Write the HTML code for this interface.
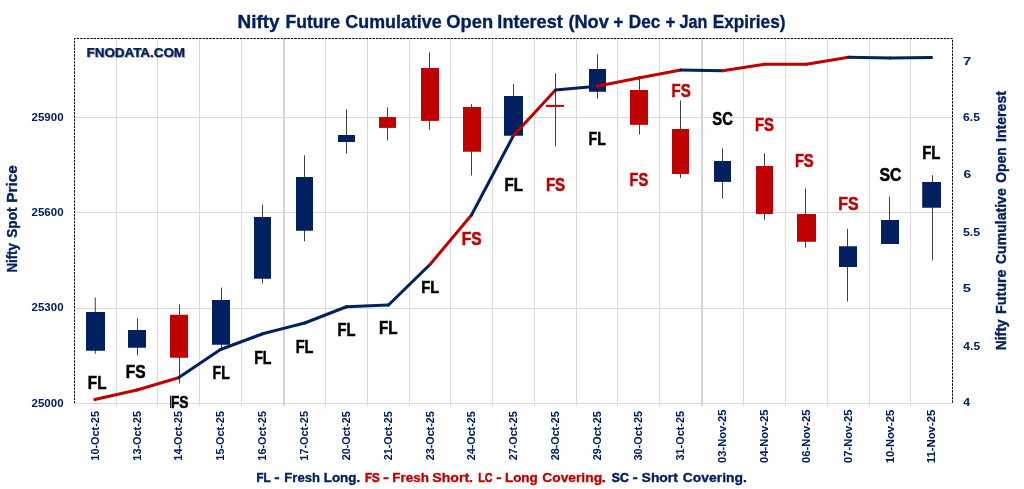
<!DOCTYPE html>
<html><head><meta charset="utf-8"><title>Nifty Future Cumulative Open Interest</title>
<style>html,body{margin:0;padding:0;background:#fff;}body{width:1024px;height:489px;overflow:hidden;font-family:"Liberation Sans",sans-serif;}svg{display:block;}</style></head>
<body>
<svg width="1024" height="489" viewBox="0 0 1024 489" font-family="Liberation Sans, sans-serif" font-weight="bold">
<defs><filter id="sh" x="-10%" y="-30%" width="120%" height="180%"><feDropShadow dx="0.8" dy="0.8" stdDeviation="0.7" flood-color="#000" flood-opacity="0.45"/></filter></defs>
<rect width="1024" height="489" fill="#fff"/>
<g opacity="0.999">
<line x1="116.50" y1="38.5" x2="116.50" y2="406.0" stroke="#DADADA" stroke-width="1"/>
<line x1="157.50" y1="38.5" x2="157.50" y2="406.0" stroke="#DADADA" stroke-width="1"/>
<line x1="199.50" y1="38.5" x2="199.50" y2="406.0" stroke="#DADADA" stroke-width="1"/>
<line x1="241.50" y1="38.5" x2="241.50" y2="406.0" stroke="#DADADA" stroke-width="1"/>
<rect x="283.00" y="38.5" width="2" height="367.5" fill="#D4D4D4"/>
<line x1="325.50" y1="38.5" x2="325.50" y2="406.0" stroke="#DADADA" stroke-width="1"/>
<line x1="367.50" y1="38.5" x2="367.50" y2="406.0" stroke="#DADADA" stroke-width="1"/>
<line x1="409.50" y1="38.5" x2="409.50" y2="406.0" stroke="#DADADA" stroke-width="1"/>
<line x1="450.50" y1="38.5" x2="450.50" y2="406.0" stroke="#DADADA" stroke-width="1"/>
<line x1="492.50" y1="38.5" x2="492.50" y2="406.0" stroke="#DADADA" stroke-width="1"/>
<line x1="534.50" y1="38.5" x2="534.50" y2="406.0" stroke="#DADADA" stroke-width="1"/>
<line x1="576.50" y1="38.5" x2="576.50" y2="406.0" stroke="#DADADA" stroke-width="1"/>
<line x1="617.50" y1="38.5" x2="617.50" y2="406.0" stroke="#DADADA" stroke-width="1"/>
<line x1="659.50" y1="38.5" x2="659.50" y2="406.0" stroke="#DADADA" stroke-width="1"/>
<rect x="701.00" y="38.5" width="2" height="367.5" fill="#D4D4D4"/>
<line x1="743.50" y1="38.5" x2="743.50" y2="406.0" stroke="#DADADA" stroke-width="1"/>
<line x1="785.50" y1="38.5" x2="785.50" y2="406.0" stroke="#DADADA" stroke-width="1"/>
<line x1="827.50" y1="38.5" x2="827.50" y2="406.0" stroke="#DADADA" stroke-width="1"/>
<line x1="869.50" y1="38.5" x2="869.50" y2="406.0" stroke="#DADADA" stroke-width="1"/>
<line x1="910.50" y1="38.5" x2="910.50" y2="406.0" stroke="#DADADA" stroke-width="1"/>
<line x1="74.5" y1="117.5" x2="952.5" y2="117.5" stroke="#DADADA" stroke-width="1"/>
<line x1="74.5" y1="212.5" x2="952.5" y2="212.5" stroke="#DADADA" stroke-width="1"/>
<line x1="74.5" y1="308.5" x2="952.5" y2="308.5" stroke="#DADADA" stroke-width="1"/>
<line x1="74.5" y1="403.5" x2="952.5" y2="403.5" stroke="#DADADA" stroke-width="1"/>
<line x1="95.25" y1="297.5" x2="95.25" y2="353.75" stroke="#404040" stroke-width="1"/>
<rect x="86" y="312" width="19.00" height="38.75" fill="#002060"/>
<line x1="137.50" y1="318.25" x2="137.50" y2="355.25" stroke="#404040" stroke-width="1"/>
<rect x="128" y="330" width="18.00" height="17.75" fill="#002060"/>
<line x1="179.50" y1="304.5" x2="179.50" y2="383.5" stroke="#404040" stroke-width="1"/>
<rect x="170" y="314.75" width="18.00" height="43.00" fill="#C00000"/>
<line x1="221.50" y1="287.5" x2="221.50" y2="350.75" stroke="#404040" stroke-width="1"/>
<rect x="212" y="300" width="18.00" height="44.75" fill="#002060"/>
<line x1="262.50" y1="204.5" x2="262.50" y2="283.25" stroke="#404040" stroke-width="1"/>
<rect x="254" y="217" width="17.00" height="61.75" fill="#002060"/>
<line x1="304.50" y1="155.3" x2="304.50" y2="241.25" stroke="#404040" stroke-width="1"/>
<rect x="296" y="177" width="17.00" height="53.75" fill="#002060"/>
<line x1="346.50" y1="109.4" x2="346.50" y2="153.5" stroke="#404040" stroke-width="1"/>
<rect x="338" y="135" width="17.00" height="7.00" fill="#002060"/>
<line x1="387.50" y1="107.4" x2="387.50" y2="140.4" stroke="#404040" stroke-width="1"/>
<rect x="379" y="117" width="17.00" height="10.90" fill="#C00000"/>
<line x1="429.50" y1="52.3" x2="429.50" y2="129.6" stroke="#404040" stroke-width="1"/>
<rect x="421" y="68" width="18.00" height="52.90" fill="#C00000"/>
<line x1="471.50" y1="104.2" x2="471.50" y2="175.5" stroke="#404040" stroke-width="1"/>
<rect x="463" y="107" width="18.00" height="44.75" fill="#C00000"/>
<line x1="513.50" y1="84.1" x2="513.50" y2="135.75" stroke="#404040" stroke-width="1"/>
<rect x="504" y="96" width="19.00" height="39.75" fill="#002060"/>
<line x1="555.50" y1="73.3" x2="555.50" y2="146.25" stroke="#404040" stroke-width="1"/>
<rect x="546" y="104.9" width="18.00" height="2.00" fill="#C00000"/>
<line x1="597.50" y1="54.3" x2="597.50" y2="98.5" stroke="#404040" stroke-width="1"/>
<rect x="589" y="69" width="17.00" height="22.80" fill="#002060"/>
<line x1="639.50" y1="76.3" x2="639.50" y2="134.5" stroke="#404040" stroke-width="1"/>
<rect x="630" y="90" width="18.00" height="34.85" fill="#C00000"/>
<line x1="680.50" y1="100.5" x2="680.50" y2="177.9" stroke="#404040" stroke-width="1"/>
<rect x="672" y="129" width="17.00" height="45.00" fill="#C00000"/>
<line x1="722.50" y1="148.3" x2="722.50" y2="198.5" stroke="#404040" stroke-width="1"/>
<rect x="714" y="161" width="17.00" height="20.90" fill="#002060"/>
<line x1="764.50" y1="153.3" x2="764.50" y2="219.7" stroke="#404040" stroke-width="1"/>
<rect x="756" y="166" width="17.00" height="48.00" fill="#C00000"/>
<line x1="805.50" y1="188.4" x2="805.50" y2="247.5" stroke="#404040" stroke-width="1"/>
<rect x="797" y="214" width="19.00" height="27.75" fill="#C00000"/>
<line x1="847.50" y1="228.75" x2="847.50" y2="301.5" stroke="#404040" stroke-width="1"/>
<rect x="839" y="246.25" width="18.00" height="20.75" fill="#002060"/>
<line x1="889.50" y1="196.5" x2="889.50" y2="244" stroke="#404040" stroke-width="1"/>
<rect x="881" y="220" width="18.00" height="24.00" fill="#002060"/>
<line x1="932.50" y1="175.2" x2="932.50" y2="260.5" stroke="#404040" stroke-width="1"/>
<rect x="922.2" y="182" width="18.80" height="25.75" fill="#002060"/>
<line x1="94.80" y1="399.5" x2="137.00" y2="390" stroke="#C00000" stroke-width="3" stroke-linecap="round"/>
<line x1="137.00" y1="390" x2="178.50" y2="377.75" stroke="#C00000" stroke-width="3" stroke-linecap="round"/>
<line x1="178.50" y1="377.75" x2="220.50" y2="349.5" stroke="#002060" stroke-width="3" stroke-linecap="round"/>
<line x1="220.50" y1="349.5" x2="262.75" y2="333.75" stroke="#002060" stroke-width="3" stroke-linecap="round"/>
<line x1="262.75" y1="333.75" x2="304.75" y2="323" stroke="#002060" stroke-width="3" stroke-linecap="round"/>
<line x1="304.75" y1="323" x2="346.50" y2="306.75" stroke="#002060" stroke-width="3" stroke-linecap="round"/>
<line x1="346.50" y1="306.75" x2="388.50" y2="305" stroke="#002060" stroke-width="3" stroke-linecap="round"/>
<line x1="388.50" y1="305" x2="430.00" y2="264.5" stroke="#002060" stroke-width="3" stroke-linecap="round"/>
<line x1="430.00" y1="264.5" x2="471.50" y2="215" stroke="#C00000" stroke-width="3" stroke-linecap="round"/>
<line x1="471.50" y1="215" x2="513.50" y2="135.5" stroke="#002060" stroke-width="3" stroke-linecap="round"/>
<line x1="513.50" y1="135.5" x2="555.50" y2="90" stroke="#C00000" stroke-width="3" stroke-linecap="round"/>
<line x1="555.50" y1="90" x2="597.00" y2="86.25" stroke="#002060" stroke-width="3" stroke-linecap="round"/>
<line x1="597.00" y1="86.25" x2="638.50" y2="78" stroke="#C00000" stroke-width="3" stroke-linecap="round"/>
<line x1="638.50" y1="78" x2="680.75" y2="70" stroke="#C00000" stroke-width="3" stroke-linecap="round"/>
<line x1="680.75" y1="70" x2="722.75" y2="70.8" stroke="#002060" stroke-width="3" stroke-linecap="round"/>
<line x1="722.75" y1="70.8" x2="764.50" y2="64.3" stroke="#C00000" stroke-width="3" stroke-linecap="round"/>
<line x1="764.50" y1="64.3" x2="806.50" y2="64.3" stroke="#C00000" stroke-width="3" stroke-linecap="round"/>
<line x1="806.50" y1="64.3" x2="848.50" y2="57.3" stroke="#C00000" stroke-width="3" stroke-linecap="round"/>
<line x1="848.50" y1="57.3" x2="890.00" y2="58" stroke="#002060" stroke-width="3" stroke-linecap="round"/>
<line x1="890.00" y1="58" x2="931.50" y2="57.4" stroke="#002060" stroke-width="3" stroke-linecap="round"/>
<path d="M74.5 403.5 L74.5 38.5 L952.5 38.5 L952.5 403.5" fill="none" stroke="#000" stroke-width="1" stroke-dasharray="2.4 1"/>
<line x1="170.6" y1="395.6" x2="170.6" y2="408" stroke="#000" stroke-width="1"/>
<line x1="74.5" y1="403.5" x2="74.5" y2="406.0" stroke="#DADADA" stroke-width="1"/>
<text x="87.83" y="388.75" font-size="19.20" textLength="18.63" lengthAdjust="spacingAndGlyphs" fill="#000" stroke="#000" stroke-width="0.55" >FL</text>
<text x="125.84" y="377.75" font-size="17.46" textLength="19.85" lengthAdjust="spacingAndGlyphs" fill="#000" stroke="#000" stroke-width="0.55" >FS</text>
<text x="170.90" y="408.00" font-size="17.32" textLength="17.58" lengthAdjust="spacingAndGlyphs" fill="#000" stroke="#000" stroke-width="0.55" >FS</text>
<text x="212.62" y="379.00" font-size="17.46" textLength="17.13" lengthAdjust="spacingAndGlyphs" fill="#000" stroke="#000" stroke-width="0.55" >FL</text>
<text x="254.16" y="364.00" font-size="17.46" textLength="17.29" lengthAdjust="spacingAndGlyphs" fill="#000" stroke="#000" stroke-width="0.55" >FL</text>
<text x="295.66" y="352.70" font-size="17.74" textLength="17.75" lengthAdjust="spacingAndGlyphs" fill="#000" stroke="#000" stroke-width="0.55" >FL</text>
<text x="337.41" y="336.20" font-size="17.74" textLength="18.09" lengthAdjust="spacingAndGlyphs" fill="#000" stroke="#000" stroke-width="0.55" >FL</text>
<text x="378.90" y="333.75" font-size="17.81" textLength="18.54" lengthAdjust="spacingAndGlyphs" fill="#000" stroke="#000" stroke-width="0.55" >FL</text>
<text x="421.28" y="293.00" font-size="17.32" textLength="17.93" lengthAdjust="spacingAndGlyphs" fill="#000" stroke="#000" stroke-width="0.55" >FL</text>
<text x="461.84" y="245.20" font-size="17.74" textLength="19.78" lengthAdjust="spacingAndGlyphs" fill="#C00000" stroke="#C00000" stroke-width="0.55" >FS</text>
<text x="504.54" y="190.60" font-size="17.88" textLength="18.43" lengthAdjust="spacingAndGlyphs" fill="#000" stroke="#000" stroke-width="0.55" >FL</text>
<text x="545.89" y="190.60" font-size="18.30" textLength="19.20" lengthAdjust="spacingAndGlyphs" fill="#C00000" stroke="#C00000" stroke-width="0.55" >FS</text>
<text x="588.62" y="144.60" font-size="17.88" textLength="17.18" lengthAdjust="spacingAndGlyphs" fill="#000" stroke="#000" stroke-width="0.55" >FL</text>
<text x="629.57" y="185.60" font-size="17.88" textLength="18.63" lengthAdjust="spacingAndGlyphs" fill="#C00000" stroke="#C00000" stroke-width="0.55" >FS</text>
<text x="671.55" y="97.10" font-size="18.02" textLength="19.15" lengthAdjust="spacingAndGlyphs" fill="#C00000" stroke="#C00000" stroke-width="0.55" >FS</text>
<text x="712.33" y="125.10" font-size="18.58" textLength="20.55" lengthAdjust="spacingAndGlyphs" fill="#000" stroke="#000" stroke-width="0.55" >SC</text>
<text x="754.91" y="131.30" font-size="18.02" textLength="18.91" lengthAdjust="spacingAndGlyphs" fill="#C00000" stroke="#C00000" stroke-width="0.55" >FS</text>
<text x="794.91" y="167.10" font-size="17.74" textLength="18.72" lengthAdjust="spacingAndGlyphs" fill="#C00000" stroke="#C00000" stroke-width="0.55" >FS</text>
<text x="838.33" y="210.20" font-size="17.74" textLength="20.33" lengthAdjust="spacingAndGlyphs" fill="#C00000" stroke="#C00000" stroke-width="0.55" >FS</text>
<text x="879.47" y="181.30" font-size="17.74" textLength="21.94" lengthAdjust="spacingAndGlyphs" fill="#000" stroke="#000" stroke-width="0.55" >SC</text>
<text x="922.20" y="159.30" font-size="17.74" textLength="18.23" lengthAdjust="spacingAndGlyphs" fill="#000" stroke="#000" stroke-width="0.55" >FL</text>
<text x="237.59" y="27.80" font-size="18.44" textLength="42.06" lengthAdjust="spacingAndGlyphs" fill="#002060" stroke="#002060" stroke-width="0.35" >Nifty</text>
<text x="285.42" y="27.80" font-size="18.44" textLength="54.72" lengthAdjust="spacingAndGlyphs" fill="#002060" stroke="#002060" stroke-width="0.35" >Future</text>
<text x="345.35" y="27.80" font-size="18.44" textLength="96.31" lengthAdjust="spacingAndGlyphs" fill="#002060" stroke="#002060" stroke-width="0.35" >Cumulative</text>
<text x="446.35" y="27.80" font-size="18.44" textLength="46.71" lengthAdjust="spacingAndGlyphs" fill="#002060" stroke="#002060" stroke-width="0.35" >Open</text>
<text x="497.36" y="27.80" font-size="18.44" textLength="65.36" lengthAdjust="spacingAndGlyphs" fill="#002060" stroke="#002060" stroke-width="0.35" >Interest</text>
<text x="568.39" y="27.80" font-size="18.44" textLength="40.48" lengthAdjust="spacingAndGlyphs" fill="#002060" stroke="#002060" stroke-width="0.35" >(Nov</text>
<text x="613.55" y="27.80" font-size="18.44" textLength="9.78" lengthAdjust="spacingAndGlyphs" fill="#002060" stroke="#002060" stroke-width="0.35" >+</text>
<text x="628.78" y="27.80" font-size="18.44" textLength="31.40" lengthAdjust="spacingAndGlyphs" fill="#002060" stroke="#002060" stroke-width="0.35" >Dec</text>
<text x="665.55" y="27.80" font-size="18.44" textLength="9.78" lengthAdjust="spacingAndGlyphs" fill="#002060" stroke="#002060" stroke-width="0.35" >+</text>
<text x="679.62" y="27.80" font-size="18.44" textLength="27.88" lengthAdjust="spacingAndGlyphs" fill="#002060" stroke="#002060" stroke-width="0.35" >Jan</text>
<text x="712.65" y="27.80" font-size="18.44" textLength="72.84" lengthAdjust="spacingAndGlyphs" fill="#002060" stroke="#002060" stroke-width="0.35" >Expiries)</text>
<text x="86.56" y="56.90" font-size="12.15" textLength="98.47" lengthAdjust="spacingAndGlyphs" fill="#002060" stroke="#002060" stroke-width="0.2" filter="url(#sh)">FNODATA.COM</text>
<text x="31.58" y="121.20" font-size="11.45" textLength="31.98" lengthAdjust="spacingAndGlyphs" fill="#002060" stroke="#002060" stroke-width="0.0" >25900</text>
<text x="31.58" y="216.10" font-size="11.45" textLength="31.98" lengthAdjust="spacingAndGlyphs" fill="#002060" stroke="#002060" stroke-width="0.0" >25600</text>
<text x="31.58" y="311.00" font-size="11.45" textLength="31.98" lengthAdjust="spacingAndGlyphs" fill="#002060" stroke="#002060" stroke-width="0.0" >25300</text>
<text x="31.58" y="406.50" font-size="11.45" textLength="31.98" lengthAdjust="spacingAndGlyphs" fill="#002060" stroke="#002060" stroke-width="0.0" >25000</text>
<text x="962.90" y="64.50" font-size="11.45" textLength="8.32" lengthAdjust="spacingAndGlyphs" fill="#002060" stroke="#002060" stroke-width="0.0" >7</text>
<text x="963.09" y="121.00" font-size="11.45" textLength="16.92" lengthAdjust="spacingAndGlyphs" fill="#002060" stroke="#002060" stroke-width="0.0" >6.5</text>
<text x="963.44" y="177.90" font-size="11.45" textLength="7.65" lengthAdjust="spacingAndGlyphs" fill="#002060" stroke="#002060" stroke-width="0.0" >6</text>
<text x="962.96" y="235.50" font-size="11.45" textLength="17.24" lengthAdjust="spacingAndGlyphs" fill="#002060" stroke="#002060" stroke-width="0.0" >5.5</text>
<text x="962.81" y="292.00" font-size="11.45" textLength="8.24" lengthAdjust="spacingAndGlyphs" fill="#002060" stroke="#002060" stroke-width="0.0" >5</text>
<text x="963.38" y="349.70" font-size="11.45" textLength="16.71" lengthAdjust="spacingAndGlyphs" fill="#002060" stroke="#002060" stroke-width="0.0" >4.5</text>
<text x="963.38" y="406.30" font-size="11.45" textLength="6.88" lengthAdjust="spacingAndGlyphs" fill="#002060" stroke="#002060" stroke-width="0.0" >4</text>
<text transform="translate(99.20 460.63) rotate(-90)" font-size="11.73" textLength="49.60" lengthAdjust="spacingAndGlyphs" fill="#002060" stroke="#002060" stroke-width="0.05" >10-Oct-25</text>
<text transform="translate(140.70 460.63) rotate(-90)" font-size="11.73" textLength="49.60" lengthAdjust="spacingAndGlyphs" fill="#002060" stroke="#002060" stroke-width="0.05" >13-Oct-25</text>
<text transform="translate(182.20 460.63) rotate(-90)" font-size="11.73" textLength="49.60" lengthAdjust="spacingAndGlyphs" fill="#002060" stroke="#002060" stroke-width="0.05" >14-Oct-25</text>
<text transform="translate(224.20 460.63) rotate(-90)" font-size="11.73" textLength="49.60" lengthAdjust="spacingAndGlyphs" fill="#002060" stroke="#002060" stroke-width="0.05" >15-Oct-25</text>
<text transform="translate(266.45 460.63) rotate(-90)" font-size="11.73" textLength="49.60" lengthAdjust="spacingAndGlyphs" fill="#002060" stroke="#002060" stroke-width="0.05" >16-Oct-25</text>
<text transform="translate(308.45 460.63) rotate(-90)" font-size="11.73" textLength="49.60" lengthAdjust="spacingAndGlyphs" fill="#002060" stroke="#002060" stroke-width="0.05" >17-Oct-25</text>
<text transform="translate(350.20 460.21) rotate(-90)" font-size="11.73" textLength="48.93" lengthAdjust="spacingAndGlyphs" fill="#002060" stroke="#002060" stroke-width="0.05" >20-Oct-25</text>
<text transform="translate(392.20 460.21) rotate(-90)" font-size="11.73" textLength="48.93" lengthAdjust="spacingAndGlyphs" fill="#002060" stroke="#002060" stroke-width="0.05" >21-Oct-25</text>
<text transform="translate(433.70 460.21) rotate(-90)" font-size="11.73" textLength="48.93" lengthAdjust="spacingAndGlyphs" fill="#002060" stroke="#002060" stroke-width="0.05" >23-Oct-25</text>
<text transform="translate(475.20 460.21) rotate(-90)" font-size="11.73" textLength="48.93" lengthAdjust="spacingAndGlyphs" fill="#002060" stroke="#002060" stroke-width="0.05" >24-Oct-25</text>
<text transform="translate(517.20 460.21) rotate(-90)" font-size="11.73" textLength="48.93" lengthAdjust="spacingAndGlyphs" fill="#002060" stroke="#002060" stroke-width="0.05" >27-Oct-25</text>
<text transform="translate(559.20 460.21) rotate(-90)" font-size="11.73" textLength="48.93" lengthAdjust="spacingAndGlyphs" fill="#002060" stroke="#002060" stroke-width="0.05" >28-Oct-25</text>
<text transform="translate(600.70 460.21) rotate(-90)" font-size="11.73" textLength="48.93" lengthAdjust="spacingAndGlyphs" fill="#002060" stroke="#002060" stroke-width="0.05" >29-Oct-25</text>
<text transform="translate(642.20 460.45) rotate(-90)" font-size="11.73" textLength="49.41" lengthAdjust="spacingAndGlyphs" fill="#002060" stroke="#002060" stroke-width="0.05" >30-Oct-25</text>
<text transform="translate(684.45 460.45) rotate(-90)" font-size="11.73" textLength="49.41" lengthAdjust="spacingAndGlyphs" fill="#002060" stroke="#002060" stroke-width="0.05" >31-Oct-25</text>
<text transform="translate(726.45 463.00) rotate(-90)" font-size="11.73" textLength="53.50" lengthAdjust="spacingAndGlyphs" fill="#002060" stroke="#002060" stroke-width="0.05" >03-Nov-25</text>
<text transform="translate(768.20 463.00) rotate(-90)" font-size="11.73" textLength="53.50" lengthAdjust="spacingAndGlyphs" fill="#002060" stroke="#002060" stroke-width="0.05" >04-Nov-25</text>
<text transform="translate(810.20 463.00) rotate(-90)" font-size="11.73" textLength="53.50" lengthAdjust="spacingAndGlyphs" fill="#002060" stroke="#002060" stroke-width="0.05" >06-Nov-25</text>
<text transform="translate(852.20 463.00) rotate(-90)" font-size="11.73" textLength="53.50" lengthAdjust="spacingAndGlyphs" fill="#002060" stroke="#002060" stroke-width="0.05" >07-Nov-25</text>
<text transform="translate(893.70 463.24) rotate(-90)" font-size="11.73" textLength="53.47" lengthAdjust="spacingAndGlyphs" fill="#002060" stroke="#002060" stroke-width="0.05" >10-Nov-25</text>
<text transform="translate(935.20 463.25) rotate(-90)" font-size="11.73" textLength="53.55" lengthAdjust="spacingAndGlyphs" fill="#002060" stroke="#002060" stroke-width="0.05" >11-Nov-25</text>
<text transform="translate(17.40 272.55) rotate(-90)" font-size="14.53" textLength="29.36" lengthAdjust="spacingAndGlyphs" fill="#002060" stroke="#002060" stroke-width="0.35" >Nifty</text>
<text transform="translate(17.40 237.72) rotate(-90)" font-size="14.53" textLength="30.17" lengthAdjust="spacingAndGlyphs" fill="#002060" stroke="#002060" stroke-width="0.35" >Spot</text>
<text transform="translate(17.40 202.66) rotate(-90)" font-size="14.53" textLength="37.50" lengthAdjust="spacingAndGlyphs" fill="#002060" stroke="#002060" stroke-width="0.35" >Price</text>
<text transform="translate(1006.40 350.32) rotate(-90)" font-size="15.08" textLength="30.90" lengthAdjust="spacingAndGlyphs" fill="#002060" stroke="#002060" stroke-width="0.35" >Nifty</text>
<text transform="translate(1006.40 314.05) rotate(-90)" font-size="15.08" textLength="44.46" lengthAdjust="spacingAndGlyphs" fill="#002060" stroke="#002060" stroke-width="0.35" >Future</text>
<text transform="translate(1006.40 264.07) rotate(-90)" font-size="15.08" textLength="75.79" lengthAdjust="spacingAndGlyphs" fill="#002060" stroke="#002060" stroke-width="0.35" >Cumulative</text>
<text transform="translate(1006.40 182.71) rotate(-90)" font-size="15.08" textLength="35.33" lengthAdjust="spacingAndGlyphs" fill="#002060" stroke="#002060" stroke-width="0.35" >Open</text>
<text transform="translate(1006.40 141.91) rotate(-90)" font-size="15.08" textLength="50.81" lengthAdjust="spacingAndGlyphs" fill="#002060" stroke="#002060" stroke-width="0.35" >Interest</text>
<text x="256.52" y="481.60" font-size="13.55" textLength="14.02" lengthAdjust="spacingAndGlyphs" fill="#002060" stroke="#002060" stroke-width="0.6" >FL</text>
<text x="274.36" y="481.60" font-size="13.55" textLength="5.35" lengthAdjust="spacingAndGlyphs" fill="#002060" stroke="#002060" stroke-width="0.35" >-</text>
<text x="284.37" y="481.60" font-size="13.55" textLength="35.58" lengthAdjust="spacingAndGlyphs" fill="#002060" stroke="#002060" stroke-width="0.35" >Fresh</text>
<text x="323.69" y="481.60" font-size="13.55" textLength="36.49" lengthAdjust="spacingAndGlyphs" fill="#002060" stroke="#002060" stroke-width="0.35" >Long.</text>
<text x="364.91" y="481.60" font-size="13.55" textLength="14.70" lengthAdjust="spacingAndGlyphs" fill="#C00000" stroke="#C00000" stroke-width="0.6" >FS</text>
<text x="383.04" y="481.60" font-size="13.55" textLength="5.90" lengthAdjust="spacingAndGlyphs" fill="#C00000" stroke="#C00000" stroke-width="0.35" >-</text>
<text x="392.32" y="481.60" font-size="13.55" textLength="36.70" lengthAdjust="spacingAndGlyphs" fill="#C00000" stroke="#C00000" stroke-width="0.35" >Fresh</text>
<text x="432.21" y="481.60" font-size="13.55" textLength="40.82" lengthAdjust="spacingAndGlyphs" fill="#C00000" stroke="#C00000" stroke-width="0.35" >Short.</text>
<text x="478.36" y="481.60" font-size="13.55" textLength="14.15" lengthAdjust="spacingAndGlyphs" fill="#C00000" stroke="#C00000" stroke-width="0.6" >LC</text>
<text x="496.36" y="481.60" font-size="13.55" textLength="5.35" lengthAdjust="spacingAndGlyphs" fill="#C00000" stroke="#C00000" stroke-width="0.35" >-</text>
<text x="504.94" y="481.60" font-size="13.55" textLength="32.87" lengthAdjust="spacingAndGlyphs" fill="#C00000" stroke="#C00000" stroke-width="0.35" >Long</text>
<text x="542.23" y="481.60" font-size="13.55" textLength="59.86" lengthAdjust="spacingAndGlyphs" fill="#C00000" stroke="#C00000" stroke-width="0.35" >Covering</text>
<text x="601.52" y="481.60" font-size="13.55" textLength="4.53" lengthAdjust="spacingAndGlyphs" fill="#333" stroke="#333" stroke-width="0.35" >.</text>
<text x="611.87" y="481.60" font-size="13.55" textLength="16.92" lengthAdjust="spacingAndGlyphs" fill="#002060" stroke="#002060" stroke-width="0.6" >SC</text>
<text x="632.40" y="481.60" font-size="13.55" textLength="5.25" lengthAdjust="spacingAndGlyphs" fill="#002060" stroke="#002060" stroke-width="0.35" >-</text>
<text x="641.61" y="481.60" font-size="13.55" textLength="36.29" lengthAdjust="spacingAndGlyphs" fill="#002060" stroke="#002060" stroke-width="0.35" >Short</text>
<text x="682.80" y="481.60" font-size="13.55" textLength="64.08" lengthAdjust="spacingAndGlyphs" fill="#002060" stroke="#002060" stroke-width="0.35" >Covering.</text>
</g></svg>
</body></html>
